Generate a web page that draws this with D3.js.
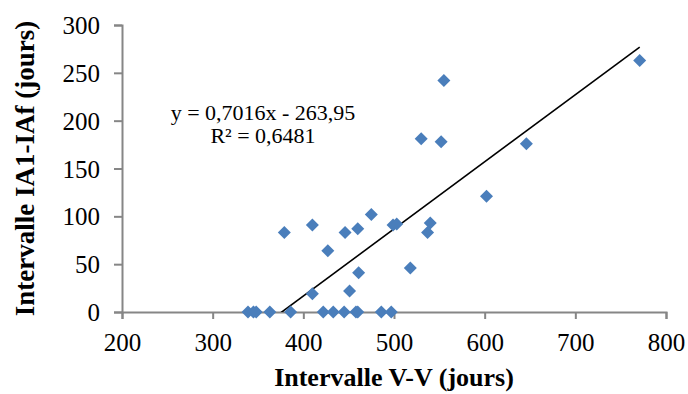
<!DOCTYPE html>
<html>
<head>
<meta charset="utf-8">
<script src="https://cdn.jsdelivr.net/npm/d3@7"></script>
<style>
  body { margin: 0; background: #fff; }
  svg { display: block; }
</style>
</head>
<body>
<div id="chart"></div>
<script>
// Data
var intervalleVV = [771, 646, 602, 555, 530, 552, 499, 503, 540, 537, 475, 446, 460, 427, 461, 518, 451, 379, 410, 410,
                    339, 345, 348, 363, 386, 422, 433, 445, 458, 460, 486, 497];
var intervalleIA = [263, 176, 121, 242, 181, 178, 91, 92, 93, 83, 102, 83, 87, 64, 41, 46, 22, 83, 91, 19,
                    0, 0, 0, 0, 0, 0, 0, 0, 0, 0, 0, 0];
var xTicks = [200, 300, 400, 500, 600, 700, 800];
var yTicks = [0, 50, 100, 150, 200, 250, 300];
var slope = 0.7016;
var intercept = -263.95;
var equationLines = ["y = 0,7016x - 263,95", "R\u00b2 = 0,6481"];

var width = 688;
var height = 394;
var margin = { top: 25, right: 22, bottom: 82, left: 122 };

var svg = d3.select("#chart")
    .append("svg")
    .attr("width", width)
    .attr("height", height);

var x = d3.scaleLinear().domain([200, 800]).range([margin.left, width - margin.right]);
var y = d3.scaleLinear().domain([0, 300]).range([height - margin.bottom, margin.top]);

var axisColor = "#868686";
var font = "'Liberation Serif', 'Times New Roman', serif";

// clip for the trend line
svg.append("clipPath").attr("id", "plot-clip")
    .append("rect")
    .attr("x", margin.left)
    .attr("y", margin.top)
    .attr("width", width - margin.right - margin.left)
    .attr("height", height - margin.bottom - margin.top);

// Axes
var xAxis = svg.append("g")
    .attr("transform", "translate(0," + y(0) + ")")
    .call(d3.axisBottom(x).tickValues(xTicks).tickSize(7).tickPadding(14));

var yAxis = svg.append("g")
    .attr("transform", "translate(" + x(200) + ",0)")
    .call(d3.axisLeft(y).tickValues(yTicks).tickSize(8).tickPadding(14));

[xAxis, yAxis].forEach(function (g) {
    g.select(".domain").attr("stroke", axisColor).attr("stroke-width", 2);
    g.selectAll(".tick line").attr("stroke", axisColor).attr("stroke-width", 2);
    g.selectAll(".tick text")
        .attr("fill", "#000")
        .style("font-family", font)
        .style("font-size", "25px");
});
yAxis.selectAll(".tick text").attr("dy", "0.34em");

// Trend line over the data range
var xExtent = d3.extent(intervalleVV);
svg.append("line")
    .attr("clip-path", "url(#plot-clip)")
    .attr("x1", x(xExtent[0]))
    .attr("y1", y(slope * xExtent[0] + intercept))
    .attr("x2", x(xExtent[1]))
    .attr("y2", y(slope * xExtent[1] + intercept))
    .attr("stroke", "#000")
    .attr("stroke-width", 1.6);

// Diamonds
var diamond = "M0,-6.5L6.5,0L0,6.5L-6.5,0Z";
svg.append("g")
    .selectAll("path")
    .data(intervalleVV.map(function (v, i) { return [v, intervalleIA[i]]; }))
    .enter()
    .append("path")
    .attr("d", diamond)
    .attr("transform", function (d) { return "translate(" + x(d[0]) + "," + y(d[1]) + ")"; })
    .attr("fill", "#4a7ebb");

// Equation
svg.append("g")
    .selectAll("text")
    .data(equationLines)
    .enter()
    .append("text")
    .attr("x", 263)
    .attr("y", function (d, i) { return 120 + i * 23; })
    .attr("text-anchor", "middle")
    .style("font-family", font)
    .style("font-size", "22px")
    .text(function (d) { return d; });

// Axis titles
svg.append("text")
    .attr("x", (x(200) + x(800)) / 2)
    .attr("y", 386)
    .attr("text-anchor", "middle")
    .style("font-family", font)
    .style("font-size", "26px")
    .style("font-weight", "bold")
    .text("Intervalle V-V (jours)");

svg.append("text")
    .attr("transform", "translate(34," + (y(0) + y(300)) / 2 + ") rotate(-90)")
    .attr("text-anchor", "middle")
    .style("font-family", font)
    .style("font-size", "27px")
    .style("font-weight", "bold")
    .text("Intervalle IA1-IAf (jours)");
</script>
</body>
</html>
